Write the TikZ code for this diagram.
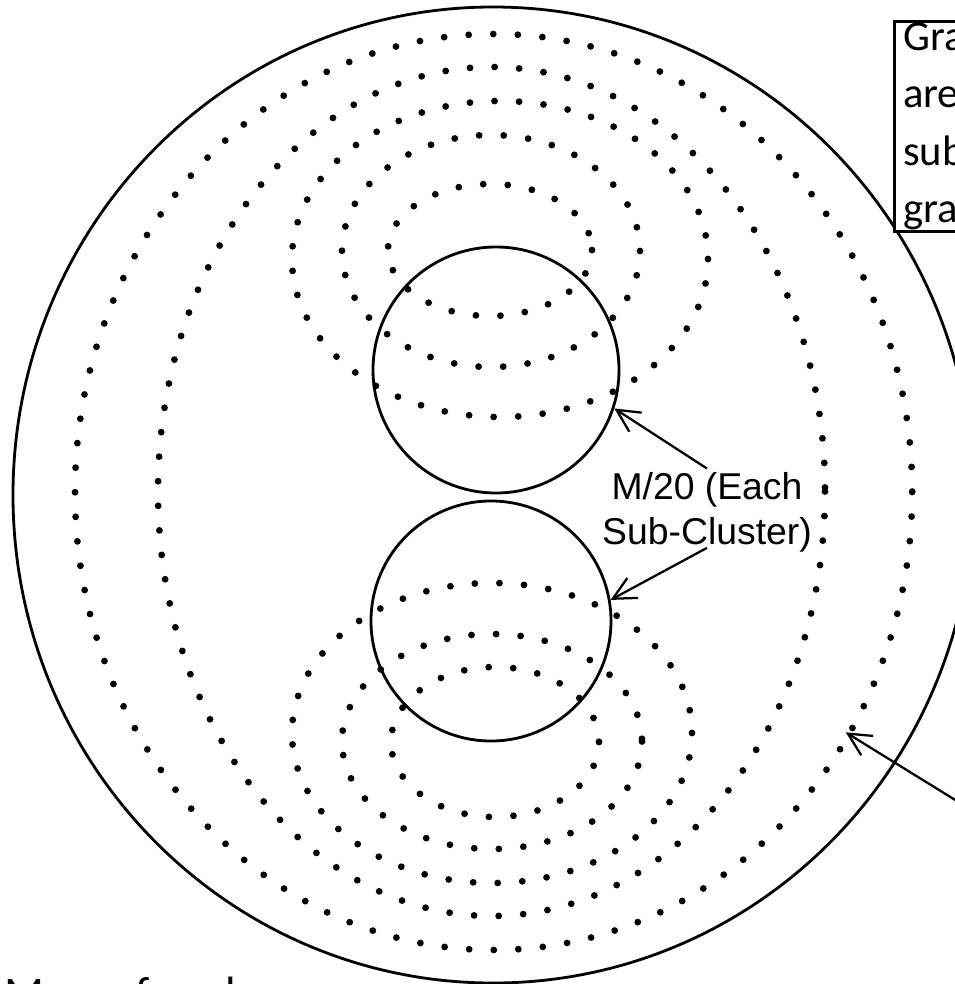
\documentclass[tikz,border=0pt]{standalone}
\usepackage{fontspec}
\setmainfont{Liberation Sans}
\newfontfamily\calibri{Carlito}
\usetikzlibrary{arrows.meta}
\begin{document}
\begin{tikzpicture}[x=0.75pt,y=-0.75pt,
  ring/.style={line width=5.1pt, line cap=round, dash pattern=on 0pt off 18.45pt},
  bigline/.style={line width=2.1pt},
  sub/.style={circle, draw, line width=2.1pt, inner sep=0pt},
  arr/.style={line width=1.7pt, -{Straight Barb[length=17pt, width=17pt]}},
  notebox/.style={draw, line width=2.3pt, fill=white, anchor=south west,
    inner xsep=6.5pt, inner ysep=1.2pt, text width=150pt, align=left,
    font=\calibri\fontsize{32pt}{43pt}\selectfont},
  lbltext/.style={font=\fontsize{28pt}{33.75pt}\selectfont, align=center, inner sep=3pt},
  bottext/.style={font=\calibri\fontsize{35pt}{40pt}\selectfont, anchor=base west, inner sep=0pt}
]
\useasboundingbox (0,0) rectangle (955,984);
\clip (0,0) rectangle (955,984);

% big cluster outline
\draw[bigline] (493,495) ellipse [x radius=480, y radius=488];

% dotted rings
\draw[ring] (493.6,492) ellipse [x radius=418.6, y radius=458];
\draw[ring] (491.5,491.5) ellipse [x radius=333.5, y radius=424.5];
\draw[ring] (500,259) ellipse [x radius=208, y radius=158];
\draw[ring] (491,251) ellipse [x radius=149, y radius=116];
\draw[ring] (490,250) ellipse [x radius=102, y radius=66];
\draw[ring] (492,733) ellipse [x radius=200, y radius=150];
\draw[ring] (492,741.5) ellipse [x radius=150, y radius=107.5];
\draw[ring] (495,742) ellipse [x radius=104, y radius=75];

% sub-clusters
\node[sub, minimum size=184.5pt] (top) at (496,370) {};
\node[sub, minimum size=180pt] (bot) at (491,621) {};

% texts
\node[notebox] (note) at (893,233) {Gra\\are\\sub\\gra};
\node[lbltext] (lbl) at (707,512.7) {M/20 (Each\\Sub-Cluster)};
\node[bottext] (mpc) at (4,1009) {Mpc, of each};

% arrows
\coordinate (farend) at (990,821.5);
\coordinate (ringtip) at (845.7,732.3);
\draw[arr] (lbl.north) -- (top.-18);
\draw[arr] ([yshift=6.75pt]lbl.south) -- (bot.10);
\draw[arr] (farend) -- (ringtip);
\end{tikzpicture}
\end{document}
